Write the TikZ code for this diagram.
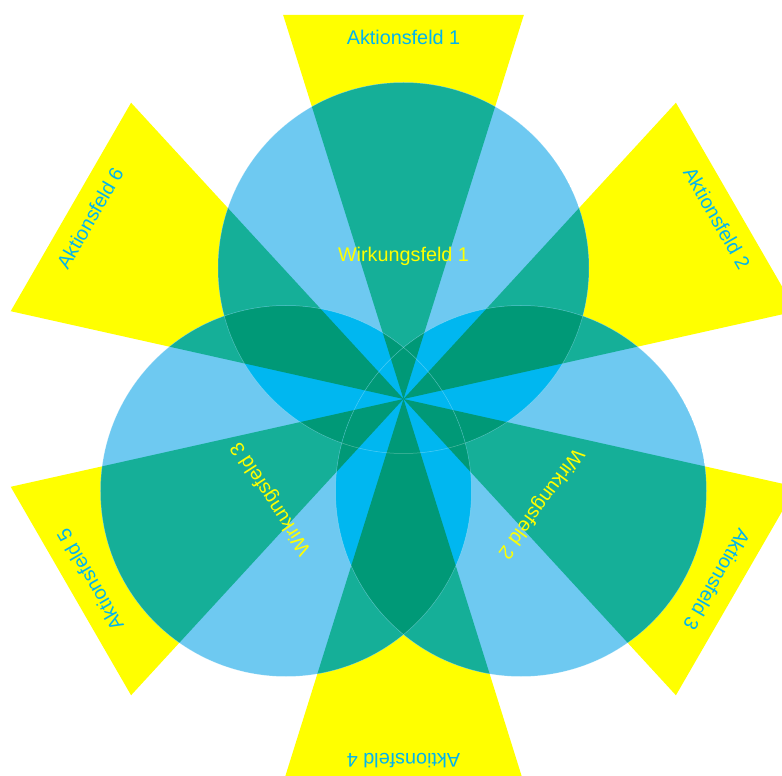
\documentclass[tikz,border=0pt]{standalone}
\usepackage{fontspec}
\setmainfont{Liberation Sans}
\definecolor{feldgelb}{HTML}{FFFF00}
\definecolor{feldblau}{HTML}{00B4EF}
\definecolor{hellblau}{HTML}{6EC9F1}
\definecolor{tuerkis}{HTML}{15AF98}
\definecolor{dunkelgruen}{HTML}{009977}
\definecolor{kraftblau}{HTML}{00B7F0}
\tikzset{
    aktion/.style={text=feldblau, font=\fontsize{19.8}{24}\selectfont, inner sep=0pt},
    wirkung/.style={text=feldgelb, font=\fontsize{19.8}{24}\selectfont, inner sep=0pt},
    naht/.style={draw=white, draw opacity=0.3, line width=0.5pt}
}
\newcommand{\keile}[1]{%
    \foreach \w in {90,30,-30,-90,-150,150} {
        \fill[#1] (0,0) -- (\w-17.4:402.5) -- (\w+17.4:402.5) -- cycle;
    }%
}
\begin{document}
\begin{tikzpicture}[x=1pt, y=1pt]
    \useasboundingbox (-403.5,-377) rectangle (378.5,399);
    \clip (-403.5,-377) rectangle (378.5,399);
    \coordinate (mo) at (0,131);
    \coordinate (ml) at (-117.5,-92);
    \coordinate (mr) at (117.5,-92);
    \keile{feldgelb}
    \foreach \m in {mo,ml,mr} {
        \begin{scope}
            \clip (\m) circle[radius=185.5];
            \fill[hellblau] (\m) circle[radius=186];
            \keile{tuerkis}
        \end{scope}
    }
    \foreach \a/\b in {mo/ml, mo/mr, ml/mr} {
        \begin{scope}
            \clip (\a) circle[radius=185.5];
            \clip (\b) circle[radius=185.5];
            \fill[kraftblau] (-400,-400) rectangle (400,400);
            \keile{dunkelgruen}
        \end{scope}
    }
    \foreach \m in {mo,ml,mr} {
        \path[naht] (\m) circle[radius=185.5];
    }
    \foreach \w/\n in {90/1, 30/2, -30/3, -90/4, -150/5, 150/6} {
        \node [aktion, rotate=\w-90] (af\n) at (\w:362) {Aktionsfeld \n};
    }
    \node [wirkung] (wf1) at (0,143) {Wirkungsfeld 1};
    \node [wirkung, rotate=-126] (wf2) at (137,-104) {Wirkungsfeld 2};
    \node [wirkung, rotate=123] (wf3) at (-132,-99.5) {Wirkungsfeld 3};
\end{tikzpicture}
\end{document}
